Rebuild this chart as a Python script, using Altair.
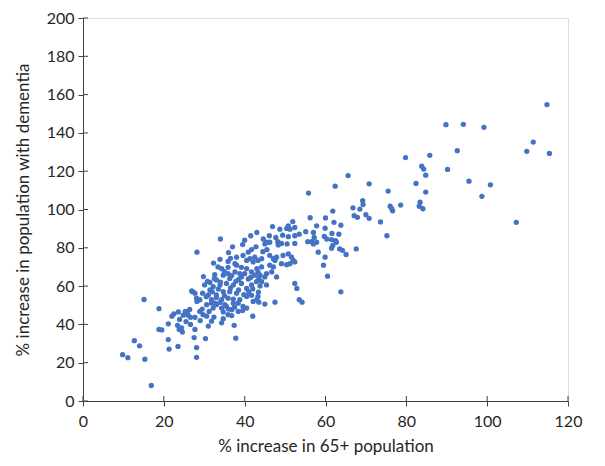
import altair as alt
import pandas as pd

# % increase in 65+ population
xs = [15.1,18.8,22.0,23.6,25.3,26.0,27.7,28.1,27.1,28.2,23.9,21.1,23.4,26.6,18.8,19.5,23.8,24.6,27.5,21.1,12.7,14.0,23.5,21.3,28.1,9.8,11.1,15.3,28.1,16.9,
      25.8,26.6,24.8,24.4,
      40.5,39.5,38.4,42.0,34.7,35.9,36.8,30.6,31.8,31.0,34.3,37.4,27.7,30.3,37.8,
      31.8,33.0,33.9,32.2,34.3,35.5,36.8,38.4,39.6,28.9,29.7,
      28.2,39.5,41.7,40.9,33.9,35.9,37.6,38.0,41.3,42.1,43.3,33.4,34.3,32.6,34.7,35.9,37.6,38.8,39.2,40.5,41.7,26.9,31.4,29.6,31.0,
      30.1,32.2,33.9,35.5,37.2,39.2,40.5,41.7,42.9,34.7,36.3,38.0,33.0,31.8,34.3,35.9,38.8,40.5,42.1,43.3,32.6,35.1,37.2,30.6,28.9,31.4,33.0,36.3,40.9,42.5,27.7,
      39.6,40.5,42.5,38.0,
      35.9,39.2,41.7,43.4,37.2,26.4,31.2,32.4,34.7,
      34.0,41.5,43.0,
      55.8,56.2,60.0,51.9,50.8,50.4,51.2,52.4,46.9,48.7,57.8,59.9,55.1,57.0,53.5,49.4,50.8,52.4,46.1,44.6,45.4,46.2,47.7,48.2,57.2,56.6,57.8,59.7,60.3,50.5,52.4,55.6,
      45.0,48.3,49.1,57.0,
      58.2,59.9,44.2,46.2,47.1,47.5,47.9,49.5,50.8,51.6,52.0,52.4,51.2,49.1,50.4,59.5,46.2,47.1,44.2,43.0,43.3,43.8,45.4,46.7,45.0,47.9,60.5,44.2,45.4,52.4,52.9,43.0,43.5,45.0,47.5,53.5,54.2,
      79.8,85.8,83.8,84.3,84.8,65.6,62.4,70.8,75.5,82.4,84.8,69.2,69.3,66.8,68.5,76.0,76.4,76.6,78.6,83.4,83.2,84.1,61.8,67.1,67.9,70.0,70.8,73.6,62.1,63.8,61.6,63.3,61.5,62.5,62.7,61.8,61.5,63.5,64.2,65.1,67.6,75.2,63.8,
      114.8,89.8,94.1,99.2,92.6,90.2,95.5,100.8,98.7,107.2,111.4,109.8,115.4,
      29.5,30.5,32.0,33.5,35.0,36.5,37.8,38.5,39.8,41.0,42.0,43.8,30.8,32.5,34.0,35.0,36.8,38.5,40.0,41.5,43.5,36.5,32.3,29.8,44.5,42.8,45.5,40.0,37.0,36.0,33.0,36.0,37.5,29.0,25.5,22.5]

# % increase in population with dementia
ys = [53.0,48.2,44.3,46.5,46.8,44.8,43.7,53.7,57.1,52.0,42.6,40.3,39.5,40.0,37.4,37.1,37.4,36.0,33.1,32.1,31.5,28.8,28.5,27.1,27.9,24.2,22.6,21.8,22.8,8.1,
      46.0,43.7,44.8,38.2,
      48.5,47.2,46.8,44.3,46.5,45.1,44.6,44.3,41.7,39.1,40.8,39.5,37.4,32.6,32.8,
      51.1,50.3,51.5,48.5,48.5,49.4,47.7,51.1,49.4,46.8,45.1,
      77.7,81.7,79.1,77.7,74.0,72.9,71.7,70.9,74.3,72.6,73.4,70.0,69.1,66.0,65.7,66.5,67.4,66.5,64.8,69.1,67.4,57.5,61.9,56.3,55.4,
      60.6,59.7,60.6,61.4,60.6,61.4,58.8,60.6,62.3,57.1,57.1,56.3,55.4,52.9,52.9,53.7,52.9,54.6,52.0,54.6,51.1,50.3,51.1,50.3,52.9,58.0,63.2,64.0,63.7,65.7,56.3,
      76.0,73.4,75.1,75.1,
      69.8,69.8,55.2,56.9,53.2,47.8,46.8,43.8,43.0,
      84.6,86.3,88.0,
      108.6,95.7,95.6,93.7,91.5,90.1,89.7,90.6,91.1,89.7,91.5,90.2,88.4,88.0,87.1,86.6,85.8,86.3,86.3,84.6,82.9,82.9,85.4,83.2,85.4,83.2,82.9,85.9,84.6,82.0,82.3,83.2,
      82.0,81.5,82.3,82.0,
      77.7,75.1,74.3,76.0,74.3,73.4,75.1,76.0,76.8,75.1,73.4,72.6,71.7,71.7,71.2,70.9,70.9,70.0,70.0,69.1,67.4,65.7,66.5,67.4,64.8,64.8,65.2,62.3,60.6,61.4,58.8,52.9,51.6,50.6,51.6,52.9,51.6,
      127.1,128.3,122.6,121.1,117.9,117.7,112.2,113.4,109.6,113.6,109.1,104.6,102.6,100.9,100.2,101.7,100.4,99.3,102.3,103.8,101.7,100.4,99.2,96.8,95.9,97.3,95.4,93.5,93.3,91.8,87.5,87.1,84.3,83.7,82.9,81.2,79.8,79.4,78.7,76.5,79.4,86.3,57.0,
      154.8,144.3,144.5,142.9,130.7,120.9,114.8,112.9,106.9,93.3,135.2,130.4,129.3,
      48.0,54.5,57.0,58.5,55.0,59.0,62.5,58.0,55.5,57.0,58.5,60.0,62.5,64.0,62.0,67.5,65.5,63.5,66.5,64.5,64.0,74.5,72.0,65.0,78.0,80.5,79.0,84.0,80.5,77.5,54.0,48.0,49.0,42.0,41.5,45.5]

x_ticks = [0, 20, 40, 60, 80, 100, 120]
y_ticks = [0, 20, 40, 60, 80, 100, 120, 140, 160, 180, 200]

df = pd.DataFrame({"x": xs, "y": ys})
xt = pd.DataFrame({"x": x_ticks})
yt = pd.DataFrame({"y": y_ticks})

W, H = 485, 383
FONT = "Lato"
AX = "#404040"
TXT = "#262626"

xscale = alt.Scale(domain=[0, 120], nice=False, zero=False)
yscale = alt.Scale(domain=[0, 200], nice=False, zero=False)

common = dict(grid=False, tickSize=5, tickColor=AX, domainColor=AX,
              labelFontSize=16, titleFontSize=17, labelFont=FONT, titleFont=FONT,
              labelColor=TXT, titleColor=TXT, titleFontWeight="normal",
              labelOverlap=False, labelFlush=False)
xaxis = alt.Axis(values=x_ticks, labelPadding=7, titlePadding=9, **common)
yaxis = alt.Axis(values=y_ticks, labelPadding=4, titlePadding=14, **common)
XT = "% increase in 65+ population"
YT = "% increase in population with dementia"

points = alt.Chart(df).mark_circle(size=28, color="#4472C4", opacity=1).encode(
    x=alt.X("x:Q", scale=xscale, title=XT, axis=xaxis),
    y=alt.Y("y:Q", scale=yscale, title=YT, axis=yaxis),
)

xin = alt.Chart(xt).mark_rule(color=AX, strokeWidth=1).encode(
    x=alt.X("x:Q", scale=xscale, title=XT, axis=xaxis),
    y=alt.value(H - 5), y2=alt.value(H))
yin = alt.Chart(yt).mark_rule(color=AX, strokeWidth=1).encode(
    y=alt.Y("y:Q", scale=yscale, title=YT, axis=yaxis),
    x=alt.value(0), x2=alt.value(5))

chart = alt.layer(points, xin, yin).properties(
    width=W, height=H,
    autosize=alt.AutoSizeParams(type="none"),
    padding={"left": 75, "top": 10, "right": 29, "bottom": 57},
).configure_view(stroke=None).configure(background="white")

chart.save("out.html", embed_options={"renderer": "svg", "actions": False})
